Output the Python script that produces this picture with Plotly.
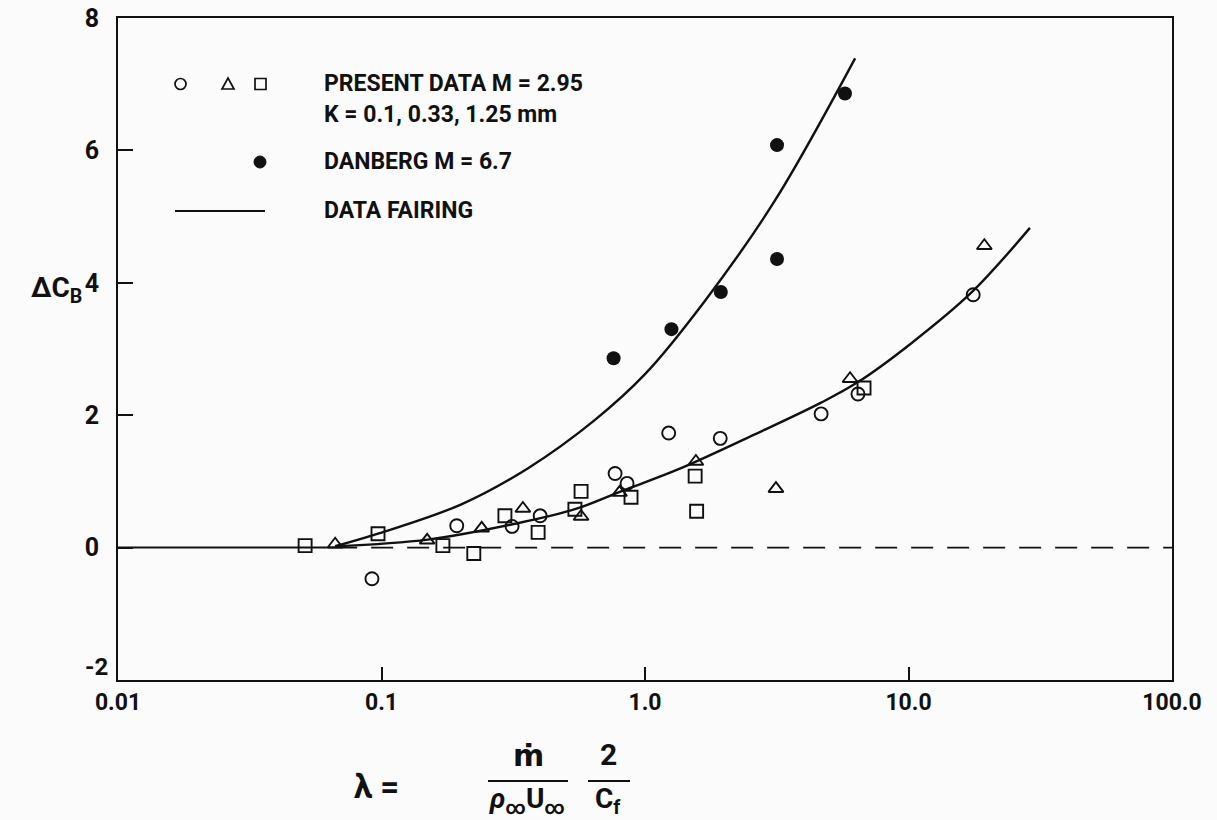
import plotly.graph_objects as go

# Present data, M = 2.95 (three roughness heights)
circle_x = [0.092, 0.193, 0.313, 0.40, 0.77, 0.855, 1.23, 1.93, 4.66, 6.43, 17.6]
circle_y = [-0.47, 0.33, 0.32, 0.48, 1.12, 0.97, 1.73, 1.65, 2.02, 2.32, 3.82]

tri_x = [0.0667, 0.149, 0.240, 0.344, 0.572, 0.80, 1.56, 3.14, 6.0, 19.4]
tri_y = [0.05, 0.11, 0.29, 0.59, 0.47, 0.83, 1.30, 0.89, 2.55, 4.56]

square_x = [0.0513, 0.097, 0.171, 0.224, 0.294, 0.393, 0.542, 0.572, 0.885, 1.55, 1.57, 6.78]
square_y = [0.03, 0.21, 0.03, -0.09, 0.48, 0.23, 0.58, 0.85, 0.76, 1.08, 0.55, 2.41]

# Danberg M = 6.7
danberg_x = [0.76, 1.26, 1.94, 3.17, 3.17, 5.74]
danberg_y = [2.86, 3.30, 3.86, 4.36, 6.08, 6.86]

# data fairings
upper_x = [0.0667, 0.097, 0.200, 0.360, 0.646, 1.0, 1.69, 3.11, 6.27]
upper_y = [0.02, 0.21, 0.65, 1.20, 1.93, 2.62, 3.73, 5.24, 7.39]
lower_x = [0.0667, 0.150, 0.321, 0.542, 0.811, 1.334, 2.61, 4.66, 6.43, 10.2, 17.3, 28.9]
lower_y = [0.02, 0.12, 0.36, 0.58, 0.85, 1.18, 1.71, 2.19, 2.50, 3.08, 3.85, 4.83]
base_x = [0.01, 0.0667]
base_y = [0, 0]
zero_x = [0.0667, 100]
zero_y = [0, 0]

x_ticks = [0.01, 0.1, 1, 10, 100]
x_labels = ["0.01", "0.1", "1.0", "10.0", "100.0"]
y_ticks = [-2, 0, 2, 4, 6, 8]

FONT = "Roboto, DejaVu Sans, sans-serif"
INK = "#111111"

fig = go.Figure()
fig.add_trace(go.Scatter(x=base_x, y=base_y, mode="lines", line=dict(color=INK, width=2)))
fig.add_trace(go.Scatter(x=zero_x, y=zero_y, mode="lines",
                         line=dict(color=INK, width=1.8, dash="22px,14px")))
fig.add_trace(go.Scatter(x=upper_x, y=upper_y, mode="lines",
                         line=dict(color=INK, width=2.4, shape="spline", smoothing=1)))
fig.add_trace(go.Scatter(x=lower_x, y=lower_y, mode="lines",
                         line=dict(color=INK, width=2.4, shape="spline", smoothing=1)))

open_marker = dict(color=INK, size=13, line=dict(color=INK, width=1.9))
fig.add_trace(go.Scatter(x=circle_x, y=circle_y, mode="markers",
                         marker=dict(symbol="circle-open", **open_marker)))
fig.add_trace(go.Scatter(x=tri_x, y=tri_y, mode="markers",
                         marker=dict(symbol="triangle-up-open", **open_marker)))
fig.add_trace(go.Scatter(x=square_x, y=square_y, mode="markers",
                         marker=dict(symbol="square-open", **open_marker)))
fig.add_trace(go.Scatter(x=danberg_x, y=danberg_y, mode="markers",
                         marker=dict(symbol="circle", color=INK, size=14)))

# plot area in window pixels: left 118, right 1172, top 18, bottom 680
L, R, T, B = 118, 1172, 18, 680
W, H = 1217, 820


def px(x):
    return (x - L) / (R - L)


def py(y):
    return (B - y) / (B - T)


shapes = []
annotations = []

# hand-drawn legend
shapes.append(dict(type="circle", xref="paper", yref="paper",
                   x0=px(175), x1=px(186), y0=py(89.5), y1=py(78.5),
                   line=dict(color=INK, width=1.7)))
shapes.append(dict(type="path", xref="paper", yref="paper",
                   path="M %f,%f L %f,%f L %f,%f Z" % (px(222), py(89), px(234), py(89), px(228), py(78)),
                   line=dict(color=INK, width=1.7)))
shapes.append(dict(type="rect", xref="paper", yref="paper",
                   x0=px(255), x1=px(266), y0=py(89.5), y1=py(78.5),
                   line=dict(color=INK, width=1.7)))
shapes.append(dict(type="circle", xref="paper", yref="paper",
                   x0=px(254), x1=px(266), y0=py(168), y1=py(156),
                   fillcolor=INK, line=dict(color=INK, width=1)))
shapes.append(dict(type="line", xref="paper", yref="paper",
                   x0=px(175), x1=px(265), y0=py(211), y1=py(211),
                   line=dict(color=INK, width=2)))

legend_text = [("PRESENT DATA M = 2.95", 84), ("K = 0.1, 0.33, 1.25 mm", 114),
               ("DANBERG M = 6.7", 162), ("DATA FAIRING", 210)]
for txt, yy in legend_text:
    annotations.append(dict(xref="paper", yref="paper", x=px(322), y=py(yy),
                            xanchor="left", yanchor="middle", showarrow=False,
                            text="<b>%s</b>" % txt, font=dict(family=FONT, size=23, color=INK)))

# y axis title
annotations.append(dict(xref="paper", yref="paper", x=px(84), y=py(289),
                        xanchor="right", yanchor="middle", showarrow=False,
                        text="<b>ΔC<sub>B</sub></b>", font=dict(family=FONT, size=28, color=INK)))

# the "-2" label sits a little above its level in the original
annotations.append(dict(xref="paper", yref="paper", x=px(110), y=py(667),
                        xanchor="right", yanchor="middle", showarrow=False,
                        text="<b>-2</b>", font=dict(family=FONT, size=24, color=INK)))

# x axis title: lambda = mdot/(rho U) * 2/Cf
lab_font = dict(family=FONT, size=30, color=INK)
annotations.append(dict(xref="paper", yref="paper", x=px(380), y=py(786), showarrow=False,
                        xanchor="center", yanchor="middle", text="<b>λ = </b>",
                        font=dict(family=FONT, size=33, color=INK)))
annotations.append(dict(xref="paper", yref="paper", x=px(528), y=py(755), showarrow=False,
                        xanchor="center", yanchor="middle", text="<b>ṁ</b>", font=lab_font))
annotations.append(dict(xref="paper", yref="paper", x=px(527), y=py(800), showarrow=False,
                        xanchor="center", yanchor="middle",
                        text="<b><i>ρ</i><sub>∞</sub>U<sub>∞</sub></b>", font=dict(family=FONT, size=28, color=INK)))
annotations.append(dict(xref="paper", yref="paper", x=px(608), y=py(754), showarrow=False,
                        xanchor="center", yanchor="middle", text="<b>2</b>", font=lab_font))
annotations.append(dict(xref="paper", yref="paper", x=px(608), y=py(800), showarrow=False,
                        xanchor="center", yanchor="middle",
                        text="<b>C<sub>f</sub></b>", font=dict(family=FONT, size=28, color=INK)))
shapes.append(dict(type="line", xref="paper", yref="paper", x0=px(488), x1=px(568),
                   y0=py(781), y1=py(781), line=dict(color=INK, width=2)))
shapes.append(dict(type="line", xref="paper", yref="paper", x0=px(588), x1=px(630),
                   y0=py(781), y1=py(781), line=dict(color=INK, width=2)))

fig.update_layout(
    width=W, height=H,
    margin=dict(l=L, r=W - R, t=T, b=H - B),
    paper_bgcolor="#fbfbfb", plot_bgcolor="#fbfbfb",
    showlegend=False,
    shapes=shapes, annotations=annotations,
    font=dict(family=FONT, color=INK),
)
fig.update_xaxes(
    type="log", range=[-2, 2], automargin=False,
    tickvals=x_ticks, ticktext=["<b>%s</b>" % t for t in x_labels],
    tickfont=dict(family=FONT, size=23, color=INK),
    ticks="inside", ticklen=13, tickwidth=1.5, tickcolor=INK, ticklabelstandoff=0,
    showline=True, linecolor=INK, linewidth=2, mirror=True,
    showgrid=False, zeroline=False,
)
fig.update_yaxes(
    range=[-2, 8], automargin=False,
    tickvals=y_ticks, ticktext=["" if t == -2 else "<b>%d</b>" % t for t in y_ticks],
    tickfont=dict(family=FONT, size=25, color=INK),
    ticks="inside", ticklen=15, tickwidth=1.5, tickcolor=INK, ticklabelstandoff=12,
    showline=True, linecolor=INK, linewidth=2, mirror=True,
    showgrid=False, zeroline=False,
)

# drop the default 8px page margin so the figure fills the window exactly
fig.write_html("out.html", config={"displayModeBar": False},
               post_script="document.body.style.margin='0';document.body.style.overflow='hidden';")
